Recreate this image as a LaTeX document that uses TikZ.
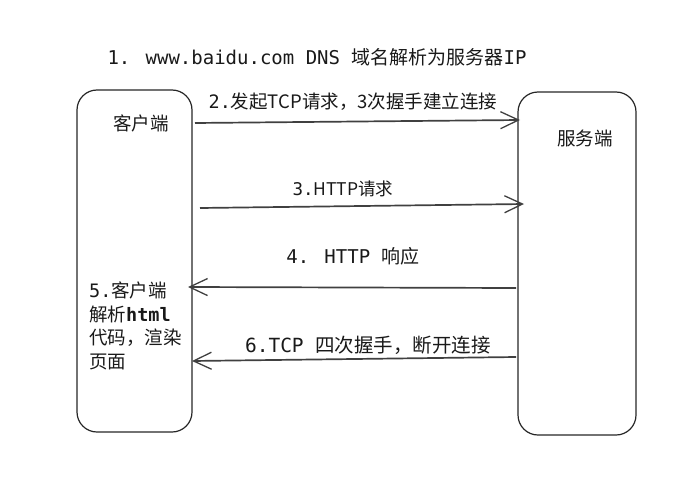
\documentclass[tikz,border=0pt]{standalone}
\usepackage{fontspec}
\setmainfont{Noto Sans CJK SC}
\newfontfamily\monof{DejaVu Sans Mono}
\usetikzlibrary{arrows.meta}
\tikzset{
  box/.style={draw=black!85, line width=1.2pt, rounded corners=20pt, inner sep=0pt},
  msg/.style={draw=black!75, line width=1.7pt, -{Straight Barb[length=18pt,width=17pt,line width=1.3pt]}},
  lbl/.style={font=\fontsize{17}{20}\selectfont, text=black!90, inner sep=0pt},
  ttl/.style={font=\fontsize{19}{22}\selectfont, text=black!90, inner sep=0pt}
}
\begin{document}
\begin{tikzpicture}[x=1pt,y=-1pt]
\useasboundingbox (0,0) rectangle (700,500);
% boxes
\node[box, minimum width=115pt, minimum height=342pt] (client) at (134.5,261) {};
\node[box, minimum width=118pt, minimum height=343pt] (server) at (577,263.5) {};
% title
\node[ttl] (title) at (317,57) {{\monof 1. www.baidu.com DNS }域名解析为服务器{\monof IP}};
% box labels
\node[lbl, font=\fontsize{18.5}{21}\selectfont] (clientlbl) at (141,123) {客户端};
\node[lbl, font=\fontsize{18.5}{21}\selectfont] (serverlbl) at (585,138) {服务端};
% client note
\node[lbl, align=left, anchor=north west, font=\fontsize{18.5}{23.5}\selectfont] (note) at (89,282)
  {{\monof 5.}客户端\\解析{\monof\bfseries html}\\代码，渲染\\页面};
% arrow endpoints
\coordinate (a1s) at (195,123); \coordinate (a1e) at (520,120);
\coordinate (a2s) at (200,208); \coordinate (a2e) at (524,204);
\coordinate (a3s) at (516,288); \coordinate (a3e) at (188,287);
\coordinate (a4s) at (516,357); \coordinate (a4e) at (192,361);
\draw[msg] (a1s) -- (a1e);
\draw[msg] (a2s) -- (a2e);
\draw[msg] (a3s) -- (a3e);
\draw[msg] (a4s) -- (a4e);
% arrow labels
\node[lbl, font=\fontsize{18.5}{21}\selectfont] (l2) at (353,102) {{\monof 2.}发起TCP请求，3次握手建立连接};
\node[lbl, font=\fontsize{17.5}{21}\selectfont] (l3) at (343,189) {{\monof 3.}HTTP请求};
\node[lbl, font=\fontsize{19}{21}\selectfont] (l4) at (353,256) {{\monof 4. HTTP }响应};
\node[lbl, font=\fontsize{19.5}{22}\selectfont] (l6) at (368,345) {{\monof 6.TCP }四次握手，断开连接};
\end{tikzpicture}
\end{document}
